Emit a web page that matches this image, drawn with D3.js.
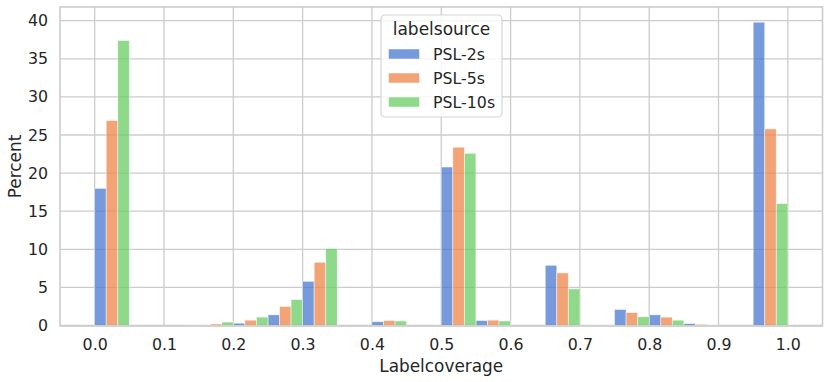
<!DOCTYPE html>
<html>
<head>
<meta charset="utf-8">
<script src="https://cdn.jsdelivr.net/npm/d3@7"></script>
<style>
  body { margin: 0; background: #fff; }
  text { font-family: "DejaVu Sans", sans-serif; fill: #262626; }
</style>
</head>
<body>
<svg id="chart" width="830" height="382"></svg>
<script>
// bin left edges (bin width 0.05)
const binStarts = d3.range(20).map(i => +(i * 0.05).toFixed(2));
const binWidth = 0.05;
const series = ["PSL-2s", "PSL-5s", "PSL-10s"];
const colors = ["#4878d0", "#ee854a", "#6acc64"];

const psl2s = [18.0, 0, 0, 0.05, 0.3, 1.4, 5.8, 0, 0.5, 0, 20.8, 0.65, 0, 7.9, 0.04, 2.1, 1.4, 0.25, 0, 39.8];
const psl5s = [26.9, 0, 0, 0.2, 0.7, 2.5, 8.3, 0, 0.65, 0, 23.4, 0.7, 0, 6.9, 0.06, 1.7, 1.1, 0.15, 0, 25.8];
const psl10s = [37.4, 0, 0.06, 0.45, 1.1, 3.4, 10.1, 0, 0.6, 0, 22.6, 0.6, 0, 4.8, 0.03, 1.15, 0.7, 0.03, 0, 16.0];
const values = [psl2s, psl5s, psl10s];

const xTicks = d3.range(0, 1.01, 0.1);
const yTicks = [0, 5, 10, 15, 20, 25, 30, 35, 40];

const m = { left: 60, right: 822.5, top: 7, bottom: 326 };

const svg = d3.select("#chart");

const x = d3.scaleLinear().domain([-0.05, 1.05]).range([m.left, m.right]);
const y = d3.scaleLinear().domain([0, 41.8]).range([325.5, m.top]);

// grid
svg.append("g").selectAll("line")
  .data(xTicks)
  .join("line")
  .attr("x1", d => x(d)).attr("x2", d => x(d))
  .attr("y1", m.top).attr("y2", m.bottom)
  .attr("stroke", "#cccccc").attr("stroke-width", 1.3);

svg.append("g").selectAll("line")
  .data(yTicks)
  .join("line")
  .attr("x1", m.left).attr("x2", m.right)
  .attr("y1", d => y(d)).attr("y2", d => y(d))
  .attr("stroke", "#cccccc").attr("stroke-width", 1.3);

// bars (dodged)
const barW = binWidth / series.length;
series.forEach((s, si) => {
  svg.append("g").selectAll("rect")
    .data(binStarts.map((b, i) => ({ b, v: values[si][i] })))
    .join("rect")
    .attr("x", d => x(d.b + si * barW))
    .attr("width", x(barW) - x(0))
    .attr("y", d => y(d.v))
    .attr("height", d => y(0) - y(d.v))
    .attr("fill", colors[si])
    .attr("fill-opacity", 0.75)
    .attr("stroke", "#ffffff")
    .attr("stroke-opacity", 0.6)
    .attr("stroke-width", 0.8);
});

// frame
svg.append("rect")
  .attr("x", m.left).attr("y", m.top)
  .attr("width", m.right - m.left).attr("height", m.bottom - m.top)
  .attr("fill", "none")
  .attr("stroke", "#cccccc").attr("stroke-width", 1.6);

// axes
const xAxis = svg.append("g")
  .attr("transform", `translate(0,${m.bottom})`)
  .call(d3.axisBottom(x).tickValues(xTicks).tickFormat(d3.format(".1f")).tickSize(0).tickPadding(13));
xAxis.select(".domain").remove();
xAxis.selectAll("text").style("font-size", "15.8px").attr("fill", "#262626");

const yAxis = svg.append("g")
  .attr("transform", `translate(${m.left},0)`)
  .call(d3.axisLeft(y).tickValues(yTicks).tickSize(0).tickPadding(12));
yAxis.select(".domain").remove();
yAxis.selectAll("text").style("font-size", "15.8px").attr("fill", "#262626");

// axis labels
svg.append("text")
  .attr("x", (m.left + m.right) / 2)
  .attr("y", 372)
  .attr("text-anchor", "middle")
  .style("font-size", "16.9px")
  .text("Labelcoverage");

svg.append("text")
  .attr("transform", `translate(21,${(m.top + m.bottom) / 2}) rotate(-90)`)
  .attr("text-anchor", "middle")
  .style("font-size", "16.9px")
  .text("Percent");

// legend
const lg = svg.append("g").attr("transform", "translate(381,15)");
lg.append("rect")
  .attr("width", 121).attr("height", 102).attr("rx", 4)
  .attr("fill", "#ffffff").attr("fill-opacity", 0.8)
  .attr("stroke", "#d6d6d6").attr("stroke-width", 1.2);
lg.append("text")
  .attr("x", 60.5).attr("y", 20)
  .attr("text-anchor", "middle")
  .style("font-size", "17px")
  .text("labelsource");
series.forEach((s, i) => {
  lg.append("rect")
    .attr("x", 7.5).attr("y", 34 + i * 24)
    .attr("width", 31).attr("height", 10)
    .attr("fill", colors[i]).attr("fill-opacity", 0.75)
    .attr("stroke", "#ffffff").attr("stroke-opacity", 0.6).attr("stroke-width", 0.8);
  lg.append("text")
    .attr("x", 52).attr("y", 45 + i * 24)
    .style("font-size", "15.8px")
    .text(s);
});
</script>
</body>
</html>
